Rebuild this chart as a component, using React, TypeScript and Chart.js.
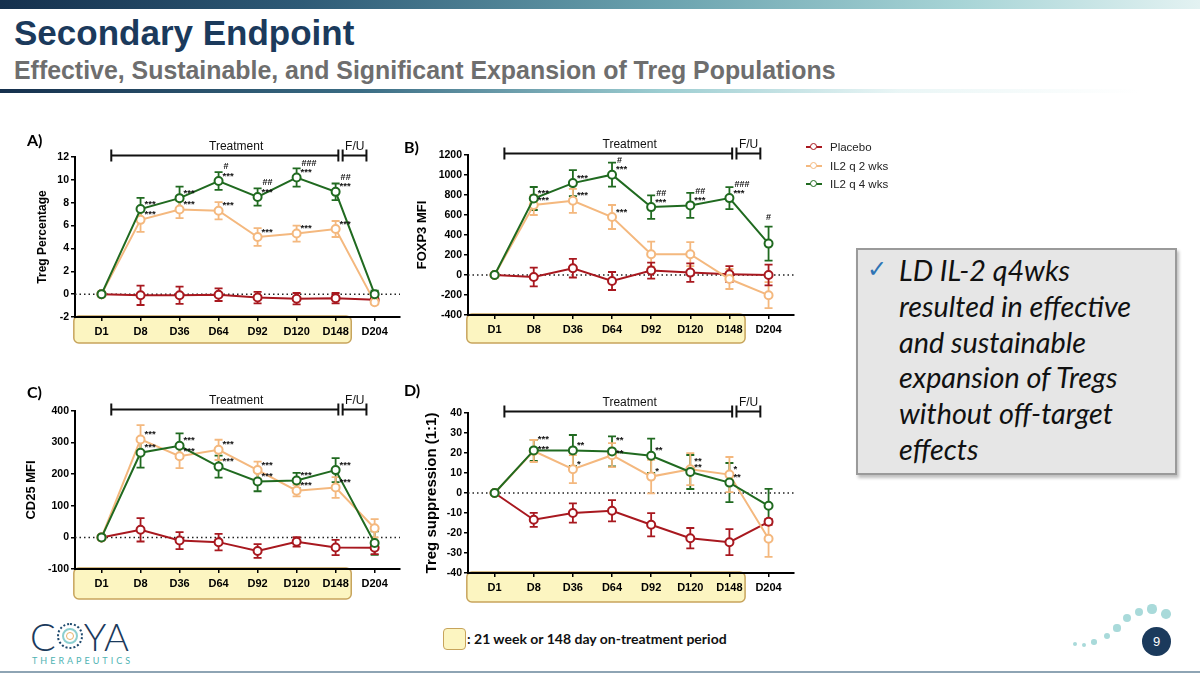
import React, { useEffect, useRef } from 'react';
import { Chart, registerables } from 'chart.js';

Chart.register(...registerables);

// ---------- shared labels ----------
const DAYS = ['D1', 'D8', 'D36', 'D64', 'D92', 'D120', 'D148', 'D204'];
const SERIES_NAMES = ['Placebo', 'IL2 q 2 wks', 'IL2 q 4 wks'];

// ---------- A) Treg percentage ----------
const A_PLACEBO = [0, -0.1, -0.1, -0.05, -0.3, -0.4, -0.35, -0.5];
const A_PLACEBO_SEM = [0, 0.85, 0.75, 0.55, 0.5, 0.5, 0.45, 0.1];
const A_Q2 = [0, 6.5, 7.4, 7.3, 5.0, 5.3, 5.7, -0.7];
const A_Q2_SEM = [0, 1.05, 0.75, 0.75, 0.77, 0.7, 0.7, 0.2];
const A_Q4 = [0, 7.45, 8.4, 9.9, 8.5, 10.2, 8.95, 0.0];
const A_Q4_SEM = [0, 0.97, 1.0, 0.78, 0.75, 0.8, 0.73, 0.3];
const A_Q2_STARS = ['', '***', '***', '***', '***', '***', '***', ''];
const A_Q4_STARS = ['', '***', '***', '***', '***', '***', '***', ''];
const A_Q4_HASH = ['', '', '', '#', '##', '###', '##', ''];
const A_Y_TICKS = [-2, 12, 2];

// ---------- B) FOXP3 MFI ----------
const B_PLACEBO = [0, -20, 68, -60, 44, 24, 8, 0];
const B_PLACEBO_SEM = [0, 93, 93, 90, 80, 93, 80, 103];
const B_Q2 = [0, 700, 742, 580, 208, 208, -40, -202];
const B_Q2_SEM = [0, 100, 120, 120, 125, 120, 100, 130];
const B_Q4 = [0, 765, 919, 1003, 679, 696, 769, 314];
const B_Q4_SEM = [0, 115, 130, 120, 118, 125, 110, 170];
const B_Q2_STARS = ['', '***', '***', '***', '', '', '', ''];
const B_Q4_STARS = ['', '***', '***', '***', '***', '***', '***', ''];
const B_Q4_HASH = ['', '', '', '#', '##', '##', '###', '#'];
const B_Y_TICKS = [-400, 1200, 200];

// ---------- C) CD25 MFI ----------
const C_PLACEBO = [0, 24, -10, -15, -43, -14, -32, -33];
const C_PLACEBO_SEM = [0, 37, 27, 26, 22, 15, 24, 20];
const C_Q2 = [0, 310, 257, 277, 213, 148, 158, 29];
const C_Q2_SEM = [0, 45, 38, 32, 27, 18, 33, 29];
const C_Q4 = [0, 268, 290, 224, 177, 180, 213, -18];
const C_Q4_SEM = [0, 47, 39, 35, 31, 24, 38, 37];
const C_Q2_STARS = ['', '***', '***', '***', '***', '***', '***', ''];
const C_Q4_STARS = ['', '***', '***', '***', '***', '***', '***', ''];
const C_Q4_HASH = ['', '', '', '', '', '', '', ''];
const C_Y_TICKS = [-100, 400, 100];

// ---------- D) Treg suppression (1:1) ----------
const D_PLACEBO = [0, -13.4, -10, -8.9, -15.9, -22.6, -24.6, -14.4];
const D_PLACEBO_SEM = [0, 3.5, 4.8, 5.3, 5.8, 5.1, 6.5, 1.5];
const D_Q2 = [0, 21, 11.9, 18.9, 8.2, 11.9, 9.2, -22.9];
const D_Q2_SEM = [0, 5.5, 7, 6, 8.4, 8, 8.8, 9];
const D_Q4 = [0, 21.3, 21.3, 20.8, 18.6, 10.5, 5.2, -6.4];
const D_Q4_SEM = [0, 5.3, 7.7, 7.5, 8.6, 8.5, 9.8, 8.5];
const D_Q2_STARS = ['', '***', '*', '**', '*', '**', '*', ''];
const D_Q4_STARS = ['', '***', '**', '**', '**', '**', '**', ''];
const D_Q4_HASH = ['', '', '', '', '', '', '', ''];
const D_Y_TICKS = [-40, 40, 10];

// ---------- styling ----------
const RED = '#a8181f';
const ORANGE = '#f4b87e';
const GREEN = '#206a20';
const FONT = '"Liberation Sans", Arial, sans-serif';
const NAVY = '#1b3a5c';

const decorPlugin = {
  id: 'decor',
  beforeDraw(chart: any, _a: any, opts: any) {
    const { ctx, chartArea, scales } = chart;
    const x = scales.x;
    const x0 = x.getPixelForValue(-0.71);
    const x1 = x.getPixelForValue(6.4);
    const y0 = chartArea.bottom - 1;
    const y1 = chartArea.bottom + opts.boxH;
    ctx.save();
    ctx.beginPath();
    ctx.roundRect(x0, y0, x1 - x0, y1 - y0, 5);
    ctx.fillStyle = '#fcf5c1';
    ctx.fill();
    ctx.strokeStyle = '#c7a45c';
    ctx.lineWidth = 1.5;
    ctx.stroke();
    ctx.restore();
  },
  beforeDatasetsDraw(chart: any) {
    const { ctx, chartArea, scales } = chart;
    const y = scales.y;
    ctx.save();
    const zy = y.getPixelForValue(0);
    ctx.setLineDash([1.5, 3]);
    ctx.lineWidth = 1.5;
    ctx.strokeStyle = '#222';
    ctx.beginPath();
    ctx.moveTo(chartArea.left, zy);
    ctx.lineTo(chartArea.right, zy);
    ctx.stroke();
    ctx.setLineDash([]);
    const n = chart.data.datasets.length;
    for (let d = n - 1; d >= 0; d--) {
      const ds: any = chart.data.datasets[d];
      const meta = chart.getDatasetMeta(d);
      ctx.strokeStyle = ds.borderColor;
      ctx.lineWidth = 1.8;
      meta.data.forEach((pt: any, i: number) => {
        const e = ds.errors[i];
        if (!e) return;
        const v = ds.data[i].y;
        const t = y.getPixelForValue(v + e);
        const b = y.getPixelForValue(v - e);
        ctx.beginPath();
        ctx.moveTo(pt.x, t); ctx.lineTo(pt.x, b);
        ctx.moveTo(pt.x - 4, t); ctx.lineTo(pt.x + 4, t);
        ctx.moveTo(pt.x - 4, b); ctx.lineTo(pt.x + 4, b);
        ctx.stroke();
      });
    }
    ctx.restore();
  },
  afterDatasetsDraw(chart: any) {
    const { ctx, scales } = chart;
    const y = scales.y;
    ctx.save();
    ctx.fillStyle = '#111';
    ctx.textBaseline = 'middle';
    const q2: any = chart.data.datasets[1];
    const q4: any = chart.data.datasets[2];
    const m2 = chart.getDatasetMeta(1).data;
    const m4 = chart.getDatasetMeta(2).data;
    for (let i = 0; i < DAYS.length; i++) {
      const s2 = q2.stars[i];
      const s4 = q4.stars[i];
      let off2 = 0, off4 = 0;
      if (s2 && s4 && Math.abs(m2[i].y - m4[i].y) < 5) { off4 = -6; off2 = 3; }
      ctx.font = `bold 9.5px ${FONT}`;
      ctx.textAlign = 'left';
      if (s2) ctx.fillText(s2, m2[i].x + 4, m2[i].y - 5 + off2);
      if (s4) ctx.fillText(s4, m4[i].x + 4, m4[i].y - 5 + off4);
      const h = q4.hashes[i];
      if (h) {
        ctx.font = `bold 9px ${FONT}`;
        if (s4) {
          ctx.fillText(h, m4[i].x + 5, m4[i].y - 14 + off4);
        } else {
          ctx.textAlign = 'center';
          const top = y.getPixelForValue(q4.data[i].y + q4.errors[i]);
          ctx.fillText(h, m4[i].x, top - 9);
        }
      }
    }
    ctx.restore();
  },
  afterDraw(chart: any) {
    const { ctx, chartArea, scales } = chart;
    const x = scales.x;
    const by = chartArea.top - 1.5;
    const p = (v: number) => x.getPixelForValue(v);
    ctx.save();
    ctx.strokeStyle = '#111';
    ctx.lineWidth = 2;
    ctx.beginPath();
    ctx.moveTo(p(0.25), by); ctx.lineTo(p(6.07), by);
    ctx.moveTo(p(0.25), by - 6); ctx.lineTo(p(0.25), by + 6);
    ctx.moveTo(p(6.07), by - 6); ctx.lineTo(p(6.07), by + 6);
    ctx.moveTo(p(6.18), by - 6); ctx.lineTo(p(6.18), by + 6);
    ctx.moveTo(p(6.18), by); ctx.lineTo(p(6.79), by);
    ctx.moveTo(p(6.79), by - 6); ctx.lineTo(p(6.79), by + 6);
    ctx.stroke();
    ctx.fillStyle = '#111';
    ctx.font = `12px ${FONT}`;
    ctx.textAlign = 'center';
    ctx.textBaseline = 'alphabetic';
    ctx.fillText('Treatment', p(3.45), by - 6);
    ctx.fillText('F/U', p(6.49), by - 6);
    ctx.restore();
  },
};

type PanelCfg = {
  left: number; top: number; w: number; h: number;
  pad: { left: number; top: number; right: number; bottom: number };
  yW: number; xH: number; boxH: number;
  yTitle: string; titleSize: number; yTicks: number[];
  placebo: number[]; placeboSem: number[];
  q2: number[]; q2Sem: number[]; q4: number[]; q4Sem: number[];
  q2Stars: string[]; q4Stars: string[]; q4Hash: string[];
  letter: string; lx: number; ly: number;
};

const PANELS: PanelCfg[] = [
  {
    left: 20, top: 130, w: 390, h: 220, pad: { left: 15, top: 27, right: 10, bottom: 0 }, yW: 40, xH: 33, boxH: 26,
    yTitle: 'Treg Percentage', titleSize: 12, yTicks: A_Y_TICKS,
    placebo: A_PLACEBO, placeboSem: A_PLACEBO_SEM, q2: A_Q2, q2Sem: A_Q2_SEM, q4: A_Q4, q4Sem: A_Q4_SEM,
    q2Stars: A_Q2_STARS, q4Stars: A_Q4_STARS, q4Hash: A_Q4_HASH, letter: 'A)', lx: 27, ly: 131,
  },
  {
    left: 400, top: 130, w: 400, h: 220, pad: { left: 15, top: 25, right: 2, bottom: 0 }, yW: 53, xH: 35, boxH: 28,
    yTitle: 'FOXP3 MFI', titleSize: 13, yTicks: B_Y_TICKS,
    placebo: B_PLACEBO, placeboSem: B_PLACEBO_SEM, q2: B_Q2, q2Sem: B_Q2_SEM, q4: B_Q4, q4Sem: B_Q4_SEM,
    q2Stars: B_Q2_STARS, q4Stars: B_Q4_STARS, q4Hash: B_Q4_HASH, letter: 'B)', lx: 404, ly: 138,
  },
  {
    left: 20, top: 380, w: 390, h: 230, pad: { left: 4, top: 31, right: 10, bottom: 0 }, yW: 51, xH: 41, boxH: 30,
    yTitle: 'CD25 MFI', titleSize: 13, yTicks: C_Y_TICKS,
    placebo: C_PLACEBO, placeboSem: C_PLACEBO_SEM, q2: C_Q2, q2Sem: C_Q2_SEM, q4: C_Q4, q4Sem: C_Q4_SEM,
    q2Stars: C_Q2_STARS, q4Stars: C_Q4_STARS, q4Hash: C_Q4_HASH, letter: 'C)', lx: 27, ly: 383,
  },
  {
    left: 400, top: 380, w: 400, h: 230, pad: { left: 23, top: 33, right: 2, bottom: 0 }, yW: 45, xH: 37, boxH: 29,
    yTitle: 'Treg suppression (1:1)', titleSize: 15, yTicks: D_Y_TICKS,
    placebo: D_PLACEBO, placeboSem: D_PLACEBO_SEM, q2: D_Q2, q2Sem: D_Q2_SEM, q4: D_Q4, q4Sem: D_Q4_SEM,
    q2Stars: D_Q2_STARS, q4Stars: D_Q4_STARS, q4Hash: D_Q4_HASH, letter: 'D)', lx: 404, ly: 381,
  },
];

function buildConfig(p: PanelCfg): any {
  const mk = (label: string, vals: number[], sem: number[], color: string, order: number, stars: string[] | null, hashes: string[] | null) => ({
    label,
    data: vals.map((v, i) => ({ x: i, y: v })),
    errors: sem,
    stars,
    hashes,
    borderColor: color,
    backgroundColor: '#fff',
    pointBackgroundColor: '#fff',
    pointBorderColor: color,
    pointRadius: 4,
    pointHoverRadius: 4,
    pointBorderWidth: 2,
    borderWidth: 2,
    order,
    clip: false,
    tension: 0,
  });
  const axisGrid = { display: true, drawOnChartArea: false, drawTicks: true, tickLength: 4, color: '#000', lineWidth: 1.5 };
  const axisBorder = { display: true, color: '#000', width: 2 };
  return {
    type: 'line',
    data: {
      datasets: [
        mk(SERIES_NAMES[0], p.placebo, p.placeboSem, RED, 2, null, null),
        mk(SERIES_NAMES[1], p.q2, p.q2Sem, ORANGE, 1, p.q2Stars, null),
        mk(SERIES_NAMES[2], p.q4, p.q4Sem, GREEN, 0, p.q4Stars, p.q4Hash),
      ],
    },
    options: {
      responsive: false,
      animation: false,
      events: [],
      layout: { padding: p.pad },
      plugins: {
        legend: { display: false },
        tooltip: { enabled: false },
        decor: { boxH: p.boxH },
      },
      scales: {
        x: {
          type: 'linear',
          min: -0.68,
          max: 7.65,
          afterBuildTicks: (s: any) => { s.ticks = DAYS.map((_, i) => ({ value: i })); },
          afterFit: (s: any) => { s.height = p.xH; },
          ticks: {
            callback: (_v: any, i: number) => DAYS[i],
            font: { family: FONT, size: 11, weight: 'bold' },
            color: '#000',
            padding: 4,
            maxRotation: 0,
            autoSkip: false,
          },
          grid: axisGrid,
          border: axisBorder,
        },
        y: {
          min: p.yTicks[0],
          max: p.yTicks[1],
          afterFit: (s: any) => { s.width = p.yW; },
          ticks: {
            stepSize: p.yTicks[2],
            callback: (v: any) => String(v),
            font: { family: FONT, size: 10.5, weight: 'bold' },
            color: '#000',
            padding: 2,
          },
          title: {
            display: true,
            text: p.yTitle,
            font: { family: FONT, size: p.titleSize, weight: 'bold' },
            color: '#000',
            padding: 0,
          },
          grid: axisGrid,
          border: axisBorder,
        },
      },
    },
    plugins: [decorPlugin],
  };
}

function Panel({ cfg }: { cfg: PanelCfg }) {
  const ref = useRef<HTMLCanvasElement>(null);
  useEffect(() => {
    const chart = new Chart(ref.current as HTMLCanvasElement, buildConfig(cfg));
    return () => chart.destroy();
  }, [cfg]);
  return (
    <>
      <div style={{ position: 'absolute', left: cfg.left, top: cfg.top, width: cfg.w, height: cfg.h }}>
        <canvas ref={ref} width={cfg.w} height={cfg.h} style={{ width: cfg.w, height: cfg.h, display: 'block' }} />
      </div>
      <div style={{ position: 'absolute', left: cfg.lx, top: cfg.ly, font: 'bold 16px Lato, sans-serif', color: '#000', lineHeight: '18px' }}>
        {cfg.letter}
      </div>
    </>
  );
}

const LEGEND_COLORS = [RED, ORANGE, GREEN];

function Legend() {
  return (
    <div style={{ position: 'absolute', left: 806, top: 138 }}>
      {SERIES_NAMES.map((n, i) => (
        <div key={n} style={{ position: 'relative', height: 18.5, display: 'flex', alignItems: 'center' }}>
          <div style={{ position: 'relative', width: 16, height: 10, marginRight: 8 }}>
            <div style={{ position: 'absolute', left: 0, top: 4, width: 16, height: 2, background: LEGEND_COLORS[i] }} />
            <div style={{ position: 'absolute', left: 4, top: 1, width: 5, height: 5, borderRadius: '50%', border: `1.5px solid ${LEGEND_COLORS[i]}`, background: '#fff' }} />
          </div>
          <span style={{ font: `11.5px ${FONT}`, color: '#222', whiteSpace: 'nowrap' }}>{n}</span>
        </div>
      ))}
    </div>
  );
}

const DOTS = [
  [1075, 644, 2.2], [1084, 645, 2.4], [1094, 642, 2.8], [1107, 636, 3.2], [1117, 628, 3.6],
  [1127, 618, 4], [1139, 612, 4.4], [1152, 609, 4.6], [1166, 614, 4.8],
];

export default function App() {
  return (
    <div style={{ position: 'fixed', left: 0, top: 0, width: 1200, height: 675, background: '#fff', overflow: 'hidden' }}>
      <div style={{ position: 'absolute', left: 0, top: 0, width: 1200, height: 9, background: 'linear-gradient(90deg, #15304d 0%, #2e5a76 25%, #6aa2ae 55%, #a7d4d6 80%, #e3f2f2 100%)' }} />
      <div style={{ position: 'absolute', left: 14, top: 15, font: `bold 35px ${FONT}`, color: NAVY, lineHeight: '35px', whiteSpace: 'nowrap' }}>Secondary Endpoint</div>
      <div style={{ position: 'absolute', left: 14, top: 58, font: `bold 24.9px ${FONT}`, color: '#6e6e6e', lineHeight: '25px', whiteSpace: 'nowrap' }}>
        Effective, Sustainable, and Significant Expansion of Treg Populations
      </div>
      <div style={{ position: 'absolute', left: 0, top: 89, width: 1200, height: 4, background: 'linear-gradient(90deg, #15304d 0%, #3a6c84 30%, #9ccdd1 55%, rgba(220,240,240,0.6) 75%, rgba(255,255,255,0) 95%)' }} />

      {PANELS.map((p) => <Panel key={p.letter} cfg={p} />)}
      <Legend />

      <div style={{ position: 'absolute', left: 856, top: 248, width: 317, height: 223, background: '#e6e6e6', border: '2px solid #9a9a9a', boxShadow: '2px 3px 3px rgba(0,0,0,0.25)' }}>
        <div style={{ position: 'absolute', left: 9, top: 5, font: '24px "DejaVu Sans", sans-serif', color: '#2e74b5' }}>✓</div>
        <div style={{ position: 'absolute', left: 41, top: 3, font: 'italic 28.8px Lato, sans-serif', lineHeight: '35.8px', color: '#111', width: 275, whiteSpace: 'nowrap' }}>
          LD IL-2 q4wks<br />resulted in effective<br />and sustainable<br />expansion of Tregs<br />without off-target<br />effects
        </div>
      </div>

      <div style={{ position: 'absolute', left: 443, top: 628, width: 21, height: 20, background: '#fcf5c1', border: '1.5px solid #c7a45c', borderRadius: 4 }} />
      <div style={{ position: 'absolute', left: 467, top: 630, font: 'bold 14px Lato, sans-serif', color: '#111', whiteSpace: 'nowrap', lineHeight: '18px' }}>
        : 21 week or 148 day on-treatment period
      </div>

      <div style={{ position: 'absolute', left: 30, top: 616, font: '300 38px Lato, sans-serif', color: NAVY, lineHeight: '40px', whiteSpace: 'nowrap', display: 'flex', alignItems: 'center' }}>
        <span>C</span>
        <span style={{ display: 'inline-block', width: 26, height: 26, borderRadius: '50%', border: '2px dotted #1f4a6e', margin: '0 1px', position: 'relative', boxSizing: 'border-box' }}>
          <span style={{ position: 'absolute', left: 3, top: 3, width: 16, height: 16, borderRadius: '50%', border: '2px solid #8ccfd0', boxSizing: 'border-box' }} />
          <span style={{ position: 'absolute', left: 7, top: 7, width: 8, height: 8, borderRadius: '50%', border: '1.5px solid #e8b26a', boxSizing: 'border-box' }} />
        </span>
        <span>YA</span>
      </div>
      <div style={{ position: 'absolute', left: 32, top: 655, font: '9px Lato, sans-serif', color: '#4fb3b3', letterSpacing: '3px', whiteSpace: 'nowrap' }}>THERAPEUTICS</div>

      {DOTS.map(([x, y, r], i) => (
        <div key={i} style={{ position: 'absolute', left: x - r, top: y - r, width: r * 2, height: r * 2, borderRadius: '50%', background: '#a9dada' }} />
      ))}
      <div style={{ position: 'absolute', left: 1142, top: 627, width: 29, height: 29, borderRadius: '50%', background: NAVY, color: '#fff', font: `13px ${FONT}`, display: 'flex', alignItems: 'center', justifyContent: 'center' }}>9</div>

      <div style={{ position: 'absolute', left: 0, top: 671, width: 1200, height: 2, background: '#8ea4b4' }} />
    </div>
  );
}
